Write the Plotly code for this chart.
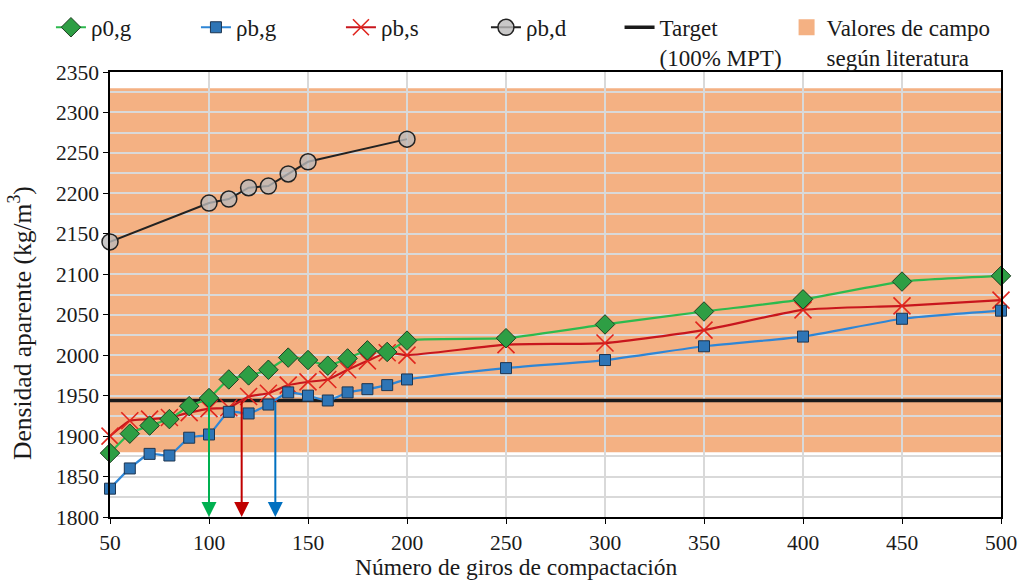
import plotly.graph_objects as go

# Compaction gyrations (x) and apparent densities (kg/m3)
giros = [50, 60, 70, 80, 90, 100, 110, 120, 130, 140, 150, 160, 170, 180, 190, 200,
         250, 300, 350, 400, 450, 500]
rho0_g = [1879, 1903, 1913, 1921, 1937, 1947, 1970, 1975, 1982, 1997, 1994, 1987, 1996,
          2006, 2004, 2018, 2021, 2038, 2054, 2069, 2091, 2098]
rhob_g = [1835, 1860, 1878, 1876, 1898, 1902, 1930, 1928, 1939, 1954, 1950, 1944, 1954,
          1958, 1963, 1970, 1984, 1994, 2011, 2023, 2045, 2055]
rhob_s = [1900, 1919, 1921, 1923, 1929, 1934, 1935, 1949, 1953, 1963, 1967, 1970, 1982,
          1993, 2003, 2000, 2013, 2015, 2031, 2056, 2061, 2068]

giros_d = [50, 100, 110, 120, 130, 140, 150, 200]
rhob_d = [2140, 2188, 2193, 2207, 2209, 2224, 2239, 2267]

# Target density (100% MPT) and field range reported in literature
target = 1944
campo_min, campo_max = 1880, 2330

# Gyrations at which each series reaches the target
cruce_giros = [100, 116.5, 133.5]
cruce_colores = ["#00B050", "#C00000", "#0070C0"]

x_min, x_max = 50, 500
serif = "Liberation Serif, Times New Roman, serif"
ink = "#1a1a1a"
band_color = "#F4B183"

fig = go.Figure()

# Literature field band
fig.add_shape(type="rect", xref="x", yref="y", x0=x_min, x1=x_max,
              y0=campo_min, y1=campo_max, fillcolor=band_color,
              line=dict(width=0), layer="below")

# Legend entry for the band
fig.add_trace(go.Scatter(x=[None], y=[None], mode="markers",
                         marker=dict(symbol="square", size=16, color=band_color),
                         name="Valores de campo<br>según literatura",
                         legend="legend2", legendrank=6))

# Target line
fig.add_trace(go.Scatter(x=[x_min, x_max], y=[target, target], mode="lines",
                         line=dict(color=ink, width=3.5),
                         name="Target<br>(100% MPT)", legend="legend2", legendrank=5))

fig.add_trace(go.Scatter(x=giros_d, y=rhob_d, mode="lines+markers", name="ρb,d",
                         line=dict(color="#222222", width=2),
                         marker=dict(symbol="circle", size=16,
                                     color="rgba(188,186,186,0.8)",
                                     line=dict(color="#222222", width=1.5)),
                         cliponaxis=False, legendrank=4))

fig.add_trace(go.Scatter(x=giros, y=rhob_s, mode="lines+markers", name="ρb,s",
                         line=dict(color="#C8161D", width=2.2, shape="spline", smoothing=0.5),
                         marker=dict(symbol="x-thin", size=17,
                                     line=dict(color="#E0261F", width=1.6)),
                         cliponaxis=False, legendrank=3))

fig.add_trace(go.Scatter(x=giros, y=rhob_g, mode="lines+markers", name="ρb,g",
                         line=dict(color="#2E86D6", width=2.2, shape="spline", smoothing=0.5),
                         marker=dict(symbol="square", size=11, color="#2E75B6",
                                     line=dict(color="#1d3550", width=1)),
                         cliponaxis=False, legendrank=2))

fig.add_trace(go.Scatter(x=giros, y=rho0_g, mode="lines+markers", name="ρ0,g",
                         line=dict(color="#2DBA4E", width=2.2, shape="spline", smoothing=0.5),
                         marker=dict(symbol="diamond", size=15, color="#2E9E44",
                                     line=dict(color="#1f3f22", width=1)),
                         cliponaxis=False, legendrank=1))

# Arrows from the target line down to the axis
for gx, col in zip(cruce_giros, cruce_colores):
    fig.add_annotation(x=gx, y=1800, ax=gx, ay=target, xref="x", yref="y",
                       axref="x", ayref="y", text="", showarrow=True,
                       arrowhead=2, arrowsize=1.5, arrowwidth=2, arrowcolor=col)

# Axis titles, placed as free text
fig.add_annotation(text="Número de giros de compactación", xref="paper", yref="paper",
                   x=0.456, y=-0.1436, xanchor="center", yanchor="bottom",
                   showarrow=False, borderpad=0,
                   font=dict(family=serif, size=23.5, color=ink))
fig.add_annotation(text="Densidad aparente (kg/m<sup>3</sup>)", xref="paper", yref="paper",
                   x=-0.1, y=0.436, xanchor="center", yanchor="middle", textangle=-90,
                   showarrow=False, font=dict(family=serif, size=25.5, color=ink))

axis_common = dict(showline=True, linecolor="#000000", linewidth=1.5, mirror=True,
                   ticks="outside", ticklen=5, tickcolor="#000000",
                   tickfont=dict(family=serif, size=21.5, color=ink),
                   showgrid=True, gridcolor="#d9d9d9", gridwidth=1.5, zeroline=False)

fig.update_xaxes(range=[x_min, x_max], dtick=50, tick0=50, **axis_common)
fig.update_yaxes(range=[1800, 2350], dtick=50, tick0=1800,
                 minor=dict(dtick=25, showgrid=True, gridcolor="#d9d9d9", gridwidth=1.5),
                 **axis_common)

legend_font = dict(family=serif, size=23, color=ink)
fig.update_layout(
    width=1019, height=581,
    margin=dict(l=110, r=18, t=72, b=64, autoexpand=False),
    font=dict(family=serif, color=ink),
    plot_bgcolor="#ffffff", paper_bgcolor="#ffffff",
    legend=dict(orientation="h", xref="container", yref="container",
                x=0.05, y=0.99, xanchor="left", yanchor="top",
                font=legend_font, entrywidth=100, entrywidthmode="pixels",
                valign="top", traceorder="normal", bgcolor="rgba(0,0,0,0)"),
    legend2=dict(orientation="h", xref="container", yref="container",
                 x=0.608, y=0.99, xanchor="left", yanchor="top",
                 font=legend_font, valign="top", traceorder="normal",
                 bgcolor="rgba(0,0,0,0)"),
)

fig.write_html("out.html")
